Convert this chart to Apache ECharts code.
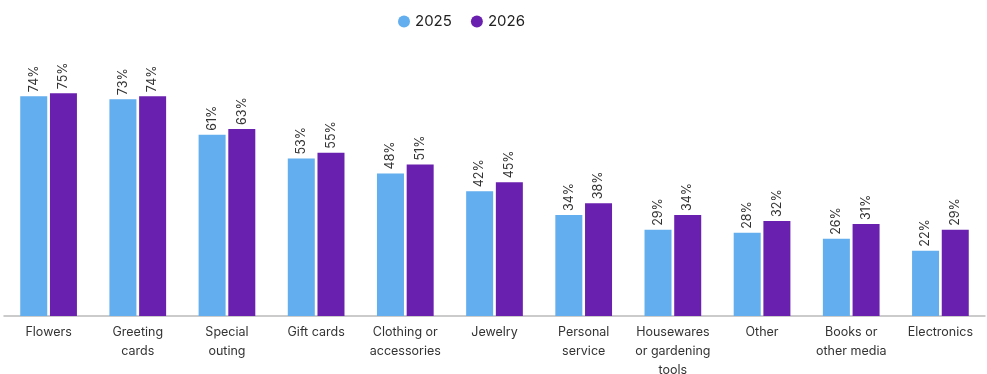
<!DOCTYPE html>
<html>
<head>
<meta charset="utf-8">
<script src="https://cdn.jsdelivr.net/npm/echarts@6/dist/echarts.min.js"></script>
<style>
html,body{margin:0;padding:0;background:#fff;}
#c{width:987px;height:374px;}
</style>
</head>
<body>
<div id="c"></div>
<script>
const categories = ["Flowers","Greeting\ncards","Special\nouting","Gift cards","Clothing or\naccessories","Jewelry","Personal\nservice","Housewares\nor gardening\ntools","Other","Books or\nother media","Electronics"];
const values2025 = [74,73,61,53,48,42,34,29,28,26,22];
const values2026 = [75,74,63,55,51,45,38,34,32,31,29];
const seriesNames = ["2025","2026"];

const chart = echarts.init(document.getElementById('c'));
const font = "Inter, 'Noto Sans', sans-serif";
const label = {
  show: true, position: 'top', rotate: 90, align: 'left', verticalAlign: 'middle',
  distance: 4, formatter: p => p.value + '%', color: '#333', fontSize: 12.5, fontFamily: font
};
chart.setOption({
  animation: false,
  legend: {
    top: 9, left: 393, icon: 'circle', itemWidth: 12, itemHeight: 12, itemGap: 19,
    textStyle: {fontSize: 15, color: '#222', fontFamily: font}
  },
  grid: {left: 4, right: 2, top: 19, bottom: 58, containLabel: false, outerBoundsMode: 'none'},
  xAxis: {
    type: 'category', data: categories,
    axisLine: {lineStyle: {color: '#bbb', width: 1.5}},
    axisTick: {show: false},
    axisLabel: {interval: 0, color: '#333', fontSize: 12.5, lineHeight: 19, margin: 7, fontFamily: font}
  },
  yAxis: {type: 'value', min: 0, max: 100, show: false},
  series: [
    {name: seriesNames[0], type: 'bar', data: values2025, barWidth: 27, barGap: '10%',
     itemStyle: {color: '#62AEEE'}, label: label},
    {name: seriesNames[1], type: 'bar', data: values2026, barWidth: 27, barGap: '10%',
     itemStyle: {color: '#6A20AE'}, label: label}
  ]
});
</script>
</body>
</html>
